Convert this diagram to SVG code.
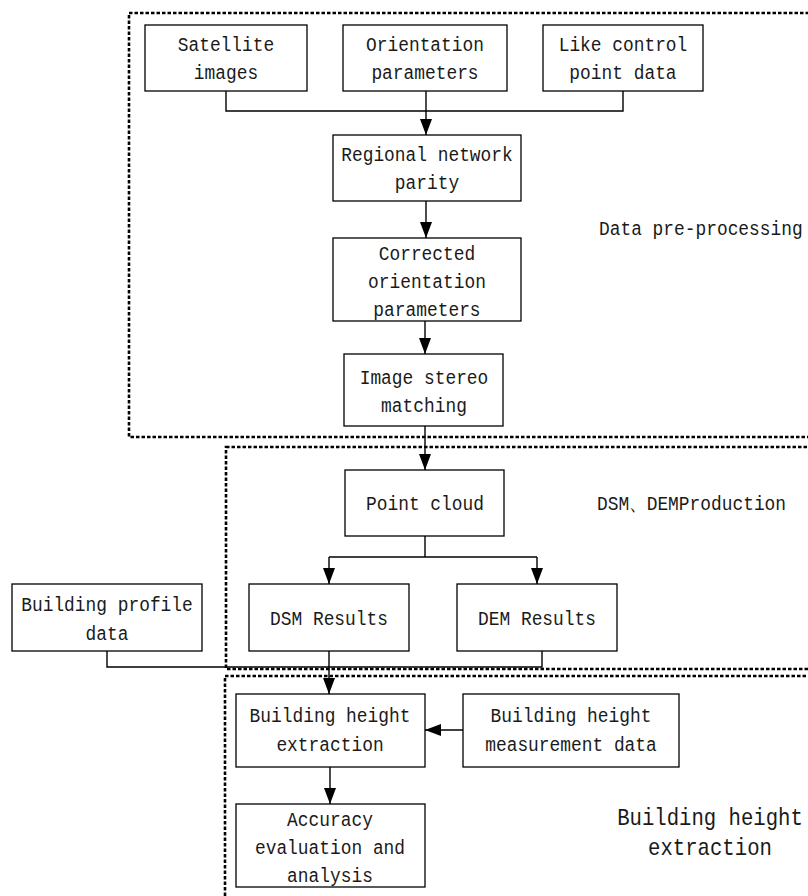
<svg xmlns="http://www.w3.org/2000/svg" width="808" height="896" viewBox="0 0 808 896">
<defs>
<style>
.box{fill:#fff;stroke:#000;stroke-width:1.3}
.grp{fill:none;stroke:#000;stroke-width:2.6;stroke-dasharray:3.5 2}
.t,.lab,.big{font-family:"Liberation Mono","DejaVu Sans Mono",monospace;fill:#1a1a1a;transform-box:fill-box;transform:scaleX(0.86)}
.t{font-size:20.8px;text-anchor:middle;transform-origin:center}
.lab{font-size:20.8px;transform-origin:left center}
.big{font-size:24px;text-anchor:middle;transform-origin:center}
.c{fill:none;stroke:#000;stroke-width:1.4}
</style>
<marker id="ah" viewBox="0 0 16 12" refX="16" refY="6" markerWidth="16" markerHeight="12" markerUnits="userSpaceOnUse" orient="auto">
<path d="M0,0 L16,6 L0,12 Z" fill="#000"/>
</marker>
</defs>
<rect width="808" height="896" fill="#fff"/>

<g id="groups">
<rect class="grp" x="129" y="13" width="720" height="424"/>
<rect class="grp" x="226" y="447" width="620" height="222"/>
<rect class="grp" x="225" y="676" width="620" height="260"/>
<text class="lab" x="599" y="235">Data pre-processing</text>
<text class="lab" x="597" y="510">DSM、DEMProduction</text>
<text class="big" x="710" y="825">Building height</text>
<text class="big" x="710" y="855">extraction</text>
</g>

<g id="connectors">
<path class="c" d="M226,91 V111 H623 V91"/>
<path class="c" d="M426,91 V135" marker-end="url(#ah)"/>
<path class="c" d="M426,201 V238" marker-end="url(#ah)"/>
<path class="c" d="M425,321 V354" marker-end="url(#ah)"/>
<path class="c" d="M425,426 V470" marker-end="url(#ah)"/>
<path class="c" d="M425,536 V557"/>
<path class="c" d="M329,557 H537"/>
<path class="c" d="M329,557 V584" marker-end="url(#ah)"/>
<path class="c" d="M537,557 V584" marker-end="url(#ah)"/>
<path class="c" d="M107,651 V667 H542 V651"/>
<path class="c" d="M329,651 V694" marker-end="url(#ah)"/>
<path class="c" d="M463,730 H425" marker-end="url(#ah)"/>
<path class="c" d="M330,767 V804" marker-end="url(#ah)"/>
</g>

<g id="satellite"><rect class="box" x="145" y="25" width="162" height="66"/>
<text class="t" x="226" y="51">Satellite</text><text class="t" x="226" y="79">images</text></g>
<g id="orientation"><rect class="box" x="343" y="25" width="164" height="66"/>
<text class="t" x="425" y="51">Orientation</text><text class="t" x="425" y="79">parameters</text></g>
<g id="likecontrol"><rect class="box" x="543" y="25" width="160" height="66"/>
<text class="t" x="623" y="51">Like control</text><text class="t" x="623" y="79">point data</text></g>
<g id="regional"><rect class="box" x="333" y="135" width="188" height="66"/>
<text class="t" x="427" y="161">Regional network</text><text class="t" x="427" y="189">parity</text></g>
<g id="corrected"><rect class="box" x="333" y="238" width="188" height="83"/>
<text class="t" x="427" y="260">Corrected</text><text class="t" x="427" y="288">orientation</text><text class="t" x="427" y="316">parameters</text></g>
<g id="stereo"><rect class="box" x="344" y="354" width="159" height="72"/>
<text class="t" x="424" y="384">Image stereo</text><text class="t" x="424" y="412">matching</text></g>
<g id="pointcloud"><rect class="box" x="345" y="470" width="159" height="66"/>
<text class="t" x="425" y="510">Point cloud</text></g>
<g id="dsm"><rect class="box" x="249" y="584" width="160" height="67"/>
<text class="t" x="329" y="625">DSM Results</text></g>
<g id="dem"><rect class="box" x="457" y="584" width="160" height="67"/>
<text class="t" x="537" y="625">DEM Results</text></g>
<g id="profile"><rect class="box" x="12" y="584" width="190" height="67"/>
<text class="t" x="107" y="611">Building profile</text><text class="t" x="107" y="640">data</text></g>
<g id="extraction"><rect class="box" x="236" y="694" width="189" height="73"/>
<text class="t" x="330" y="722">Building height</text><text class="t" x="330" y="751">extraction</text></g>
<g id="measurement"><rect class="box" x="463" y="694" width="216" height="73"/>
<text class="t" x="571" y="722">Building height</text><text class="t" x="571" y="751">measurement data</text></g>
<g id="accuracy"><rect class="box" x="236" y="804" width="189" height="83"/>
<text class="t" x="330" y="826">Accuracy</text><text class="t" x="330" y="854">evaluation and</text><text class="t" x="330" y="882">analysis</text></g>
</svg>
